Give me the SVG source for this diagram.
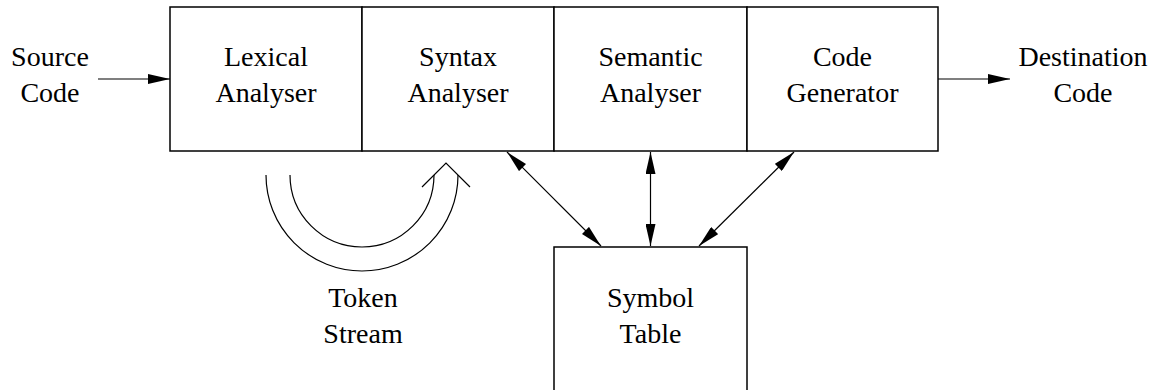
<svg xmlns="http://www.w3.org/2000/svg" width="1155" height="390" viewBox="0 0 1155 390">
  <style>
    .box { fill: #fff; stroke: #000; stroke-width: 1.5; }
    .lbl { font-family: "Liberation Serif", "Times New Roman", serif; font-size: 28px; fill: #000; text-anchor: middle; }
    .conn { stroke: #000; stroke-width: 1.2; fill: none; }
    .arc { stroke: #000; stroke-width: 1.2; fill: none; }
  </style>
  <defs>
    <marker id="head" viewBox="0 0 22 10" refX="22" refY="5" markerWidth="22" markerHeight="10" markerUnits="userSpaceOnUse" orient="auto-start-reverse">
      <path d="M0,0 L22,5 L0,10 Z" fill="#000"/>
    </marker>
  </defs>

  <rect width="1155" height="390" fill="#fff"/>

  <!-- compiler phases -->
  <g id="lexical-analyser">
    <rect class="box" x="170" y="7" width="192" height="144"/>
    <text class="lbl" x="266" y="66">Lexical</text>
    <text class="lbl" x="266" y="102">Analyser</text>
  </g>
  <g id="syntax-analyser">
    <rect class="box" x="362" y="7" width="192" height="144"/>
    <text class="lbl" x="458" y="66">Syntax</text>
    <text class="lbl" x="458" y="102">Analyser</text>
  </g>
  <g id="semantic-analyser">
    <rect class="box" x="554" y="7" width="193" height="144"/>
    <text class="lbl" x="650.5" y="66">Semantic</text>
    <text class="lbl" x="650.5" y="102">Analyser</text>
  </g>
  <g id="code-generator">
    <rect class="box" x="747" y="7" width="191" height="144"/>
    <text class="lbl" x="842.5" y="66">Code</text>
    <text class="lbl" x="842.5" y="102">Generator</text>
  </g>
  <g id="symbol-table">
    <rect class="box" x="554" y="247" width="193" height="160"/>
    <text class="lbl" x="650.5" y="307">Symbol</text>
    <text class="lbl" x="650.5" y="343">Table</text>
  </g>

  <!-- input / output labels -->
  <g id="source-code">
    <text class="lbl" x="50" y="66">Source</text>
    <text class="lbl" x="50" y="102">Code</text>
  </g>
  <g id="destination-code">
    <text class="lbl" x="1083" y="66">Destination</text>
    <text class="lbl" x="1083" y="102">Code</text>
  </g>
  <g id="token-stream">
    <text class="lbl" x="363" y="307">Token</text>
    <text class="lbl" x="363" y="343">Stream</text>
  </g>

  <!-- connectors -->
  <g id="connectors">
    <line class="conn" x1="98" y1="79" x2="170" y2="79" marker-end="url(#head)"/>
    <line class="conn" x1="938" y1="79" x2="1010" y2="79" marker-end="url(#head)"/>
    <line class="conn" x1="507" y1="152" x2="601" y2="246" marker-start="url(#head)" marker-end="url(#head)"/>
    <line class="conn" x1="650.5" y1="152" x2="650.5" y2="246" marker-start="url(#head)" marker-end="url(#head)"/>
    <line class="conn" x1="794" y1="152" x2="699" y2="246" marker-start="url(#head)" marker-end="url(#head)"/>

    <!-- token stream: hollow curved arrow from lexical to syntax analyser -->
    <path class="arc" d="M266,175 A96,96 0 0 0 458,175"/>
    <path class="arc" d="M290,175 A72,72 0 0 0 434,175"/>
    <path class="arc" d="M422,187 L446,163 L470,187"/>
  </g>
</svg>
